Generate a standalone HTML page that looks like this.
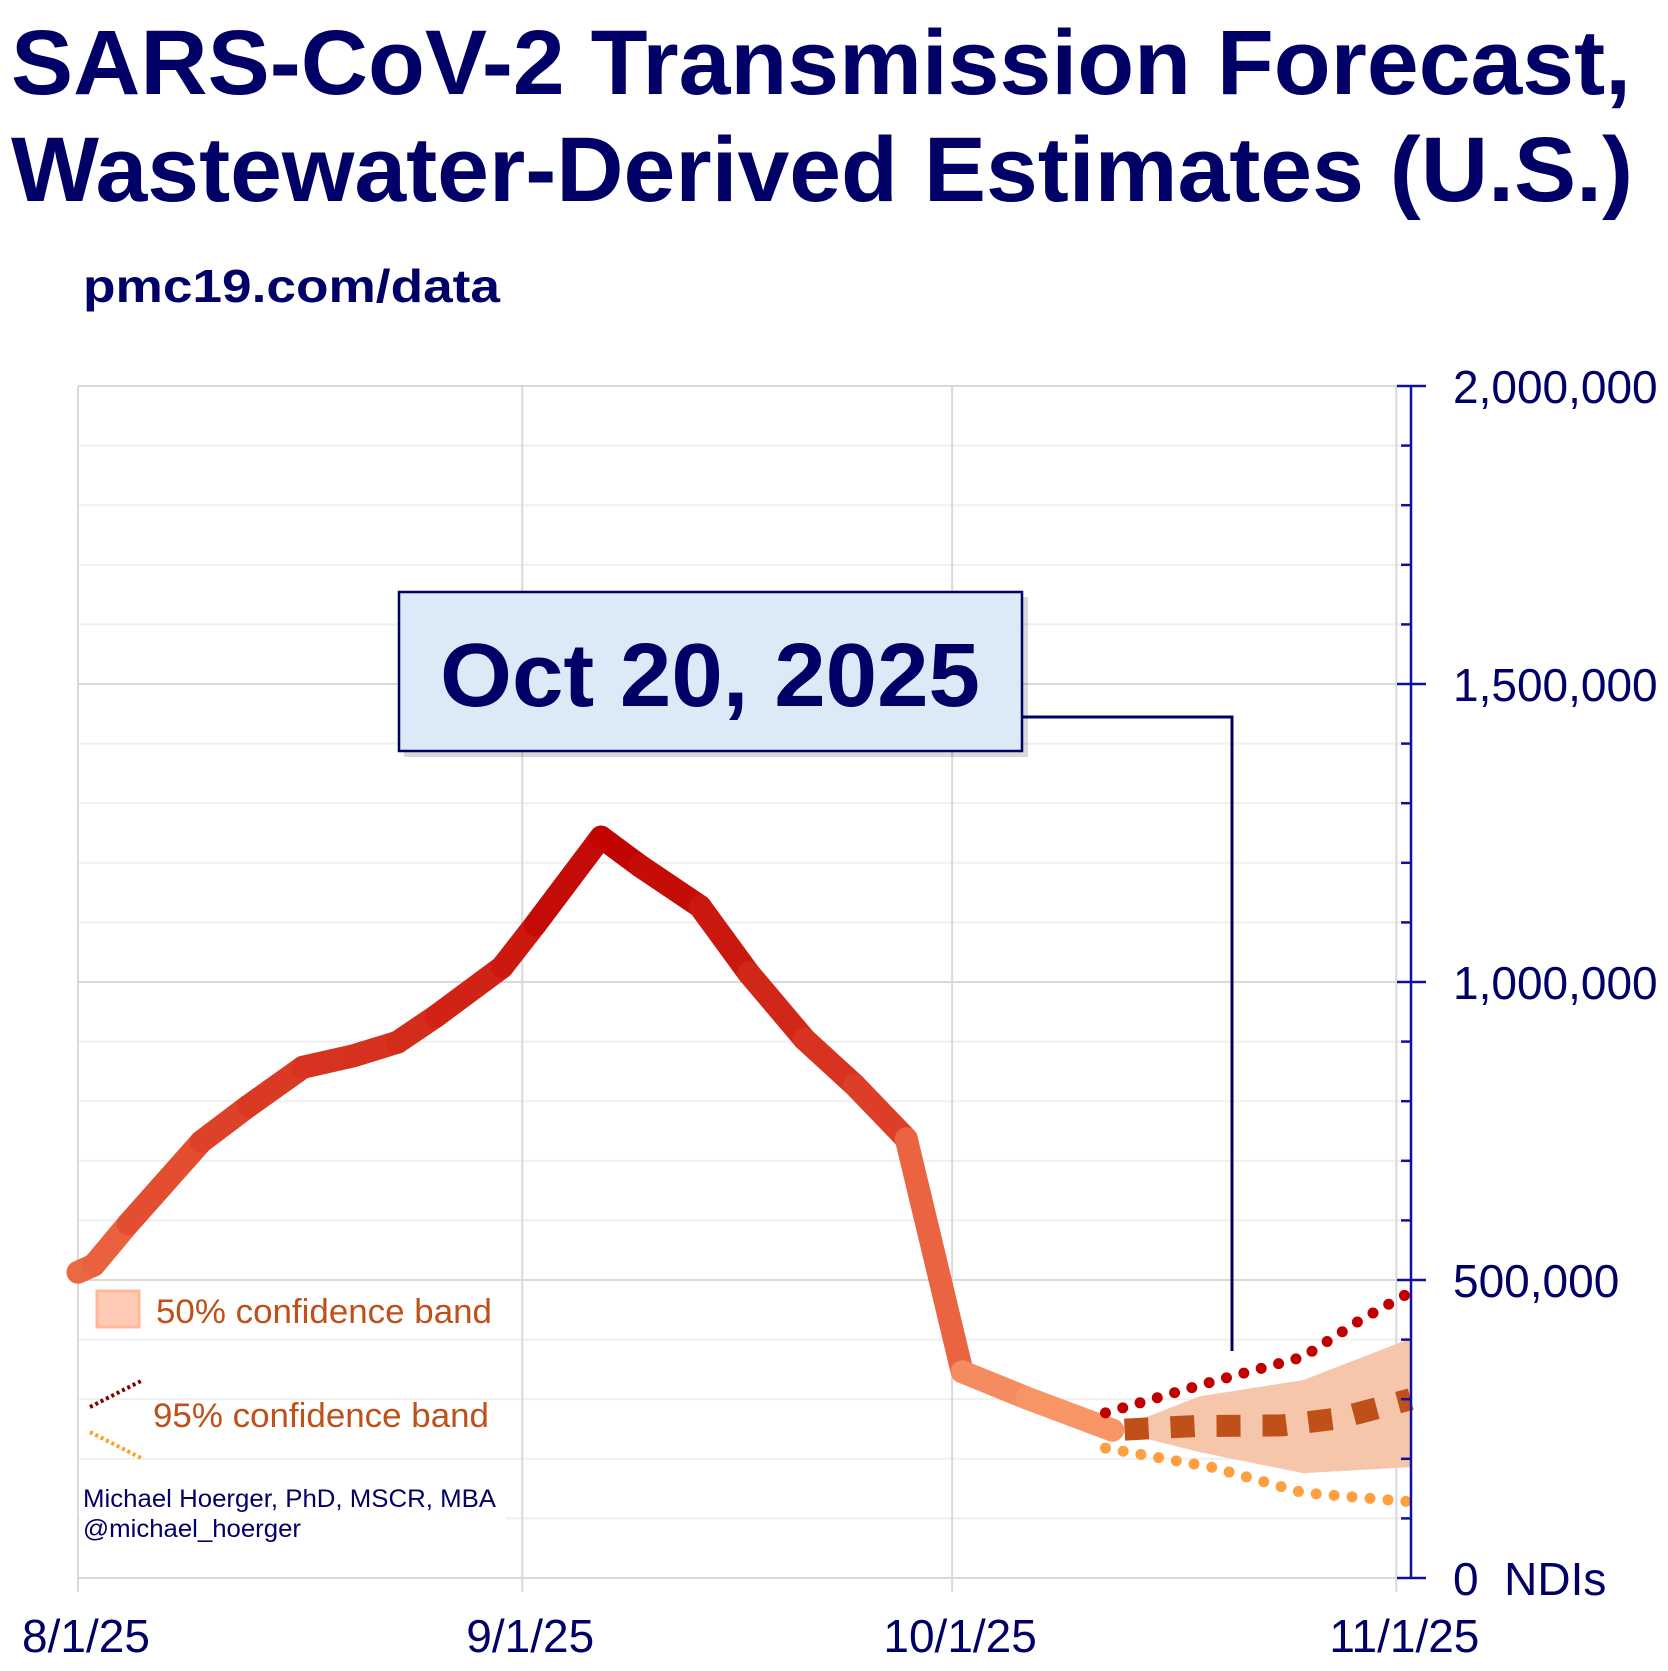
<!DOCTYPE html>
<html><head><meta charset="utf-8"><style>
html,body{margin:0;padding:0;background:#fff;}
svg{display:block;font-family:"Liberation Sans",Arial,sans-serif;}
</style></head><body>
<svg id="chart" width="1668" height="1671" viewBox="0 0 1668 1671" xmlns="http://www.w3.org/2000/svg">
<text x="11" y="94" font-size="92" font-weight="bold" fill="#000066" textLength="1620" lengthAdjust="spacingAndGlyphs">SARS-CoV-2 Transmission Forecast,</text>
<text x="11" y="201" font-size="92" font-weight="bold" fill="#000066" textLength="1622" lengthAdjust="spacingAndGlyphs">Wastewater-Derived Estimates (U.S.)</text>
<text x="83" y="302" font-size="46" font-weight="bold" fill="#000066" textLength="417" lengthAdjust="spacingAndGlyphs">pmc19.com/data</text>
<g id="grid"></g>
<g id="marks"></g>
<g id="axis"></g>
<g>
<rect x="97" y="1291" width="42" height="36" fill="#ffcbb5" stroke="#ffb899" stroke-width="3"/>
<text x="156" y="1323" font-size="34" fill="#c0501a" textLength="336" lengthAdjust="spacingAndGlyphs">50% confidence band</text>
<line x1="90" y1="1407" x2="141" y2="1381" stroke="#800000" stroke-width="4" stroke-dasharray="3,3"/>
<line x1="90" y1="1432" x2="141" y2="1458" stroke="#ffa020" stroke-width="4" stroke-dasharray="3,3"/>
<text x="153" y="1427" font-size="34" fill="#c0501a" textLength="336" lengthAdjust="spacingAndGlyphs">95% confidence band</text>
</g>
<rect x="80" y="1482" width="426" height="64" fill="#fff"/>
<text x="83" y="1507" font-size="25" fill="#000066" textLength="413" lengthAdjust="spacingAndGlyphs">Michael Hoerger, PhD, MSCR, MBA</text>
<text x="83" y="1537" font-size="25" fill="#000066" textLength="218" lengthAdjust="spacingAndGlyphs">@michael_hoerger</text>
<g>
<polyline points="1022,717 1232,717 1232,1351" fill="none" stroke="#000066" stroke-width="3"/>
<rect x="404" y="597" width="624" height="160" fill="#000" opacity="0.15"/>
<rect x="399" y="592" width="623" height="159" fill="#dce9f6" stroke="#000066" stroke-width="2.5"/>
<text x="710" y="706" font-size="90" font-weight="bold" fill="#000066" text-anchor="middle" textLength="540" lengthAdjust="spacingAndGlyphs">Oct 20, 2025</text>
</g>
<g id="xlabels"></g>
</svg>
<script>
const xTickLabels = ["8/1/25","9/1/25","10/1/25","11/1/25"];
const xTickDays = [0,31,61,92];
const yTickValues = [0,500000,1000000,1500000,2000000];
const yTickLabels = ["0  NDIs","500,000","1,000,000","1,500,000","2,000,000"];
const obsDays = [0,1.1,3.5,8.6,11.9,15.7,19.2,22.3,25,29.6,31.9,36.5,39.2,43.4,46.8,50.7,54.2,57.8,61.7,66.2,72.2];
const obsValues = [513000,525000,594000,732000,792000,857000,876000,899000,943000,1025000,1096000,1243000,1195000,1127000,1015000,904000,827000,737000,346000,302000,248000];
const fcDays = [72.2,78,84,88,93];
const fcValues = [248000,255000,256000,268000,300000];
const band50Days = [72.2,78.3,85.5,93];
const band50Upper = [248000,305000,332000,402000];
const band50Lower = [248000,211000,176000,186000];
const ci95UpperDays = [71.7,79.1,85.5,89.5,93];
const ci95Upper = [277000,329000,371000,433000,480000];
const ci95LowerDays = [71.7,79.1,85.5,93];
const ci95Lower = [218000,186000,143000,128000];

const NS="http://www.w3.org/2000/svg";
const X0=78, PXDAY=14.33, Y0=1578, PXVAL=298/500000;
const xs=d=>X0+d*PXDAY;
const ys=v=>Y0-v*PXVAL;
function mk(tag,attrs,parent){const e=document.createElementNS(NS,tag);for(const k in attrs)e.setAttribute(k,attrs[k]);parent.appendChild(e);return e;}
const grid=document.getElementById('grid'), marks=document.getElementById('marks'), axis=document.getElementById('axis'), xl=document.getElementById('xlabels');
for(let v=100000; v<=2000000; v+=100000){
  const major=v%500000===0;
  const l=mk('line',{x1:X0,x2:1400,y1:ys(v),y2:ys(v),stroke:major?'#d9d9d9':'#efefef','stroke-width':2},grid);
  
  
}
const b=mk('line',{x1:X0,x2:1400,y1:Y0,y2:Y0,stroke:'#d9d9d9','stroke-width':2},grid);


xTickDays.forEach((d,i)=>{
  const l=mk('line',{x1:xs(d),x2:xs(d),y1:ys(2000000),y2:1592,stroke:'#d9d9d9','stroke-width':2},grid);
  
  
  const t=mk('text',{x:xs(d)+8,y:1652,'font-size':46,fill:'#000066','text-anchor':'middle'},xl);
  t.textContent=xTickLabels[i];
  
  
});
let pts=band50Days.map((d,i)=>xs(d)+','+ys(band50Upper[i]));
for(let i=band50Days.length-1;i>=0;i--)pts.push(xs(band50Days[i])+','+ys(band50Lower[i]));
const band=mk('polygon',{points:pts.join(' '),fill:'#f6c6ab'},marks);


function col(v){const t=Math.max(0,Math.min(1,(v-250000)/1000000));
  const a=[249,154,106],m=[228,80,50],c=[192,0,0];let r;
  if(t<0.4){const u=t/0.4;r=a.map((x,i)=>x+(m[i]-x)*u);}else{const u=(t-0.4)/0.6;r=m.map((x,i)=>x+(c[i]-x)*u);}
  return 'rgb('+r.map(Math.round).join(',')+')';}
for(let i=0;i<obsDays.length-1;i++){
  const s=mk('line',{x1:xs(obsDays[i]),y1:ys(obsValues[i]),x2:xs(obsDays[i+1]),y2:ys(obsValues[i+1]),stroke:col((obsValues[i]+obsValues[i+1])/2),'stroke-width':23,'stroke-linecap':'round'},marks);
  
  
}
const up=mk('polyline',{points:ci95UpperDays.map((d,i)=>xs(d)+','+ys(ci95Upper[i])).join(' '),fill:'none',stroke:'#c00000','stroke-width':11,'stroke-linecap':'round','stroke-dasharray':'0,18'},marks);


const lo=mk('polyline',{points:ci95LowerDays.map((d,i)=>xs(d)+','+ys(ci95Lower[i])).join(' '),fill:'none',stroke:'#ffa040','stroke-width':11,'stroke-linecap':'round','stroke-dasharray':'0,18'},marks);


const fc=mk('polyline',{points:fcDays.map((d,i)=>xs(d)+','+ys(fcValues[i])).join(' '),fill:'none',stroke:'#c0501a','stroke-width':22,'stroke-dasharray':'24,22','stroke-dashoffset':'-12'},marks);


const AX=1411;
const al=mk('line',{x1:AX,x2:AX,y1:ys(2000000)-1,y2:Y0+1,stroke:'#1010a0','stroke-width':2.5},axis);


for(let v=0; v<=2000000; v+=100000){
  const major=v%500000===0;
  const t=mk('line',{x1:major?1397:1401,x2:major?1426:AX,y1:ys(v),y2:ys(v),stroke:'#1010a0','stroke-width':2.5},axis);
  
  
}
yTickValues.forEach((v,i)=>{
  const t=mk('text',{x:1453,y:ys(v)+17,'font-size':46,fill:'#000066'},axis);
  t.setAttribute('xml:space','preserve');
  t.style.whiteSpace='pre';
  t.textContent=yTickLabels[i];
  
  
});
</script>
</body></html>
